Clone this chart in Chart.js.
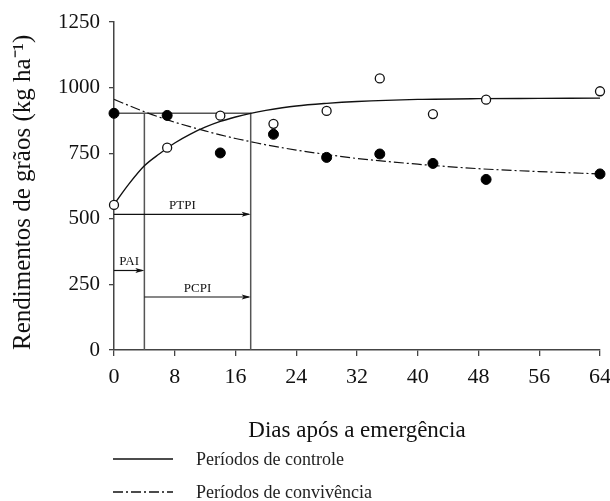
<!DOCTYPE html>
<html>
<head>
<meta charset="utf-8">
<script src="https://cdn.jsdelivr.net/npm/chart.js@4.4.1/dist/chart.umd.min.js"></script>
<style>
  html, body { margin: 0; padding: 0; background: #fff; }
  #wrap { width: 610px; height: 501px; position: relative; }
</style>
</head>
<body>
<div id="wrap"><canvas id="chartRend"></canvas></div>
<script>
// observed yields (kg/ha) at days after emergence
const days = [0, 7, 14, 21, 28, 35, 42, 49, 64]
const controleObs = [553, 771, 893, 862, 911, 1035, 899, 954, 986]
const convivenciaObs = [902, 894, 751, 822, 734, 747, 711, 650, 671]

// fitted curves
const curveDays = [0, 2, 4, 6, 8, 10, 12, 14, 16, 18, 20, 24, 28, 32, 40, 48, 56, 64]
const controleFit = [555, 634, 702, 748, 789, 822, 849, 871, 888, 902, 913, 930, 940, 947, 955, 958, 959, 960]
const convivenciaFit = [955, 931, 908, 887, 868, 851, 835, 820, 806, 794, 782, 762, 745, 730, 708, 691, 680, 671]

const xTicks = [0, 8, 16, 24, 32, 40, 48, 56, 64]
const yTicks = [0, 250, 500, 750, 1000, 1250]

// critical period limits and the reference yield
const periodLimits = [4, 18]
const refYield = 902

// arrows: name, start day, end day, level
const arrowNames = ['PTPI', 'PAI', 'PCPI']
const arrowStart = [0, 0, 4]
const arrowEnd = [18, 4, 18]
const arrowLevel = [517, 303, 202]

const legendNames = ['Períodos de controle', 'Períodos de convivência']

const SERIF = "'Liberation Serif', 'Times New Roman', serif"
const DASHDOT = [10, 3, 2, 3]

const toXY = (xs, ys) => xs.map((x, i) => ({ x: x, y: ys[i] }))

// reference lines: horizontal 0..18 then down at 18, break, vertical at 4
const refLines = [
  { x: 0, y: refYield },
  { x: periodLimits[1], y: refYield },
  { x: periodLimits[1], y: 0 },
  { x: periodLimits[1] + 0.01, y: null },
  { x: periodLimits[0], y: 0 },
  { x: periodLimits[0], y: refYield },
]

const extras = {
  id: 'extras',
  afterDatasetsDraw(chart) {
    const ctx = chart.ctx
    const xs = chart.scales.x
    const ys = chart.scales.y
    ctx.save()
    // arrows + labels
    arrowNames.forEach((name, i) => {
      const x0 = xs.getPixelForValue(arrowStart[i])
      const x1 = xs.getPixelForValue(arrowEnd[i])
      const y = ys.getPixelForValue(arrowLevel[i])
      ctx.strokeStyle = '#111'
      ctx.fillStyle = '#111'
      ctx.lineWidth = 1.2
      ctx.beginPath()
      ctx.moveTo(x0, y)
      ctx.lineTo(x1 - 2, y)
      ctx.stroke()
      ctx.beginPath()
      ctx.moveTo(x1, y)
      ctx.lineTo(x1 - 9, y - 2.5)
      ctx.lineTo(x1 - 7, y)
      ctx.lineTo(x1 - 9, y + 2.5)
      ctx.closePath()
      ctx.fill()
      ctx.font = '13px ' + SERIF
      ctx.textAlign = 'center'
      ctx.textBaseline = 'alphabetic'
      ctx.fillText(name, (x0 + x1) / 2, y - 5)
    })
    ctx.restore()
  },
  afterDraw(chart) {
    const ctx = chart.ctx
    ctx.save()
    const rows = [459, 492]
    legendNames.forEach((name, i) => {
      ctx.strokeStyle = '#111'
      ctx.lineWidth = 1.3
      ctx.setLineDash(i === 0 ? [] : DASHDOT)
      ctx.beginPath()
      ctx.moveTo(113, rows[i])
      ctx.lineTo(173, rows[i])
      ctx.stroke()
      ctx.setLineDash([])
      ctx.fillStyle = '#222'
      ctx.font = '18px ' + SERIF
      ctx.textAlign = 'left'
      ctx.textBaseline = 'middle'
      ctx.fillText(name, 196, rows[i] + 1)
    })
    ctx.restore()
  },
}

new Chart(document.getElementById('chartRend'), {
  type: 'line',
  data: {
    datasets: [
      {
        label: 'controle obs',
        type: 'scatter',
        data: toXY(days, controleObs),
        pointRadius: 4.5,
        pointBackgroundColor: '#fff',
        pointBorderColor: '#111',
        pointBorderWidth: 1.3,
        showLine: false,
        clip: false,
        order: 0,
      },
      {
        label: 'convivencia obs',
        type: 'scatter',
        data: toXY(days, convivenciaObs),
        pointRadius: 5,
        pointBackgroundColor: '#000',
        pointBorderColor: '#000',
        pointBorderWidth: 1,
        showLine: false,
        clip: false,
        order: 0,
      },
      {
        label: legendNames[0],
        data: toXY(curveDays, controleFit),
        borderColor: '#111',
        borderWidth: 1.4,
        pointRadius: 0,
        cubicInterpolationMode: 'monotone',
        order: 1,
      },
      {
        label: legendNames[1],
        data: toXY(curveDays, convivenciaFit),
        borderColor: '#111',
        borderWidth: 1.2,
        borderDash: DASHDOT,
        pointRadius: 0,
        cubicInterpolationMode: 'monotone',
        order: 1,
      },
      {
        label: 'ref',
        data: refLines,
        borderColor: '#555',
        borderWidth: 1.5,
        pointRadius: 0,
        spanGaps: false,
        tension: 0,
        order: 2,
      },
    ],
  },
  options: {
    responsive: true,
    maintainAspectRatio: false,
    animation: false,
    layout: { padding: { top: 22, right: 10, left: 0, bottom: 0 } },
    plugins: {
      legend: { display: false },
      tooltip: { enabled: false },
    },
    scales: {
      x: {
        type: 'linear',
        min: 0,
        max: 64,
        afterBuildTicks(scale) {
          scale.ticks = xTicks.map((v) => ({ value: v }))
        },
        afterFit(scale) {
          scale.height = 151
          scale.paddingLeft = 0
          scale.paddingRight = 0
        },
        grid: { drawOnChartArea: false, drawTicks: true, tickLength: 6, color: '#444', lineWidth: 1.3 },
        border: { display: true, color: '#444', width: 1.5 },
        ticks: { color: '#111', padding: 8, font: { family: SERIF, size: 22 }, maxRotation: 0 },
        title: {
          display: true,
          text: 'Dias após a emergência',
          color: '#111',
          font: { family: SERIF, size: 23 },
          padding: { top: 0, bottom: 56 },
        },
      },
      y: {
        type: 'linear',
        min: 0,
        max: 1250,
        afterBuildTicks(scale) {
          scale.ticks = yTicks.map((v) => ({ value: v }))
        },
        afterFit(scale) {
          scale.width = 114
        },
        grid: { drawOnChartArea: false, drawTicks: true, tickLength: 5, color: '#444', lineWidth: 1.3 },
        border: { display: true, color: '#444', width: 1.5 },
        ticks: {
          color: '#111',
          padding: 9,
          font: { family: SERIF, size: 21 },
          callback: (v) => String(v),
        },
        title: {
          display: true,
          text: 'Rendimentos de grãos (kg ha⁻¹)',
          color: '#111',
          align: 'start',
          font: { family: SERIF, size: 25 },
          padding: { top: 8, bottom: 0 },
        },
      },
    },
  },
  plugins: [extras],
})
</script>
</body>
</html>
